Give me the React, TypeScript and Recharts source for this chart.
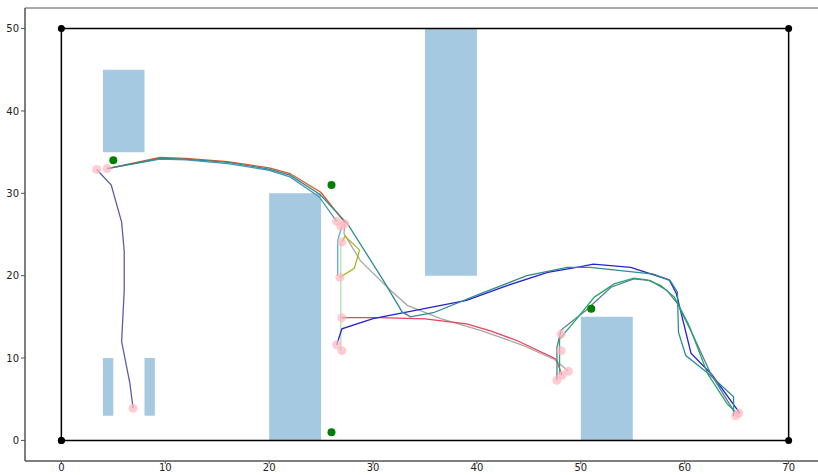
import {
  ComposedChart, Line, Scatter, XAxis, YAxis, ReferenceArea,
} from 'recharts';

type P = { x: number; y: number };
const pts = (a: number[][]): P[] => a.map(([x, y]) => ({ x, y }));

const xTicks = [0, 10, 20, 30, 40, 50, 60, 70];
const yTicks = [0, 10, 20, 30, 40, 50];

// obstacles: [x1, x2, y1, y2]
const obstacles = [
  [4, 8, 35, 45],
  [4, 5, 3, 10],
  [8, 9, 3, 10],
  [20, 25, 0, 30],
  [35, 40, 20, 50],
  [50, 55, 0, 15],
];

const boundary = pts([[0, 0], [70, 0], [70, 50], [0, 50], [0, 0]]);

const goals = pts([[5, 34], [26, 31], [26, 1], [51, 16]]);

const endpoints = pts([
  [6.9, 3.9], [3.4, 32.9], [4.4, 33.0], [26.5, 26.6], [27.3, 26.3], [26.9, 26.0],
  [27.0, 24.1], [26.8, 19.8], [27.0, 14.9], [26.5, 11.6], [27.0, 10.9],
  [48.1, 12.9], [48.1, 10.9], [47.7, 7.3], [48.2, 7.9], [48.8, 8.4],
  [64.9, 3.0], [65.2, 3.3],
]);

const slatePath = pts([
  [6.9, 3.9], [6.6, 6.9], [5.8, 12], [6.05, 18.2], [6.05, 23], [5.8, 26.5],
  [4.8, 31], [3.4, 32.9],
]);
const orangePath = pts([
  [4.4, 33.0], [9.5, 34.35], [12, 34.25], [16, 33.85], [20, 33.1], [22, 32.4],
  [25, 30.1], [27.3, 26.4],
]);
const steelPath = pts([
  [4.4, 33.0], [9.5, 34.15], [12, 34.05], [16, 33.6], [20, 32.8], [22, 32.0],
  [24.8, 29.6], [26.5, 26.6],
]);
const tealPath = pts([
  [4.4, 33.0], [9.5, 34.25], [12, 34.15], [16, 33.75], [20, 32.95], [22, 32.2],
  [24.9, 29.85], [27.6, 26.2], [31, 19.4], [32.8, 15.6], [33.6, 15.0], [35.8, 15.5],
  [40.3, 17.8], [44.8, 20], [48.7, 21], [50.9, 21.0], [57, 20.2], [58.6, 19.4],
  [59.3, 18], [59.4, 13.1], [60.1, 10.3], [62.3, 8.1], [64.7, 5.3], [64.7, 3.0],
]);
const grayPath = pts([
  [27.3, 26.3], [27.2, 25.1], [28.8, 21.8], [31.7, 18.2], [33.3, 16.4], [36.5, 14.8],
  [40.5, 13.3], [44.5, 11.5], [47.5, 9.8], [48.8, 8.4],
]);
const limePath = pts([
  [27.0, 24.1], [27.3, 24.8], [28.7, 23.1], [28.2, 20.9], [26.8, 19.8],
]);
const skyPath = pts([[27.0, 26.0], [26.6, 24.3], [26.6, 20.0]]);
const mintPath = pts([[26.9, 24.1], [26.9, 10.9]]);
const bluePath = pts([
  [26.5, 11.6], [27.0, 13.55], [30, 14.8], [35.8, 16.2], [39, 17], [42.9, 18.8],
  [46.8, 20.4], [50, 21.1], [51.2, 21.4], [54.8, 21.0], [58.5, 19.5], [59.2, 17.8],
  [60.6, 10.6], [62.6, 8.0], [65.3, 3.3],
]);
const redPath = pts([
  [27.0, 14.9], [30.7, 14.9], [35, 14.75], [39, 14.15], [41.3, 13.3], [43.9, 12.1],
  [47.6, 9.9], [48.2, 7.9],
]);
const greenPath = pts([
  [47.95, 8.0], [47.95, 12.3], [49.5, 14.6], [51.3, 17.4], [53.2, 19.0], [55.1, 19.7],
  [56.4, 19.5], [57.7, 18.8], [59, 17.4], [60.4, 14.0], [62.2, 8.1], [64.1, 4.4],
  [65.1, 3.2],
]);
const slateGrayPath = pts([
  [47.7, 7.3], [47.7, 11.3], [48.1, 13.4], [50.5, 15.8], [52.9, 18.6], [55.1, 19.6],
  [56.7, 19.4], [58.3, 18.2], [59.3, 16.6], [60.6, 13.3], [62.5, 8.1], [64.7, 3.6],
  [64.7, 3.0],
]);

const paths: { data: P[]; color: string }[] = [
  { data: slatePath, color: '#5c5ca8' },
  { data: grayPath, color: '#a8a8a8' },
  { data: mintPath, color: '#b2dfb2' },
  { data: skyPath, color: '#5aaad8' },
  { data: limePath, color: '#a8b820' },
  { data: redPath, color: '#e8445c' },
  { data: bluePath, color: '#2a20d0' },
  { data: steelPath, color: '#4a96b8' },
  { data: orangePath, color: '#e0561e' },
  { data: tealPath, color: '#2e8c90' },
  { data: slateGrayPath, color: '#60789a' },
  { data: greenPath, color: '#22aa66' },
];

const tickStyle = { fontSize: 10, fill: '#222', fontFamily: 'DejaVu Sans' };

export default function App() {
  return (
    <div style={{ position: 'absolute', left: 0, top: 0, width: 818, height: 475, overflow: 'hidden', background: '#fff' }}>
      <ComposedChart width={825} height={475} margin={{ top: 8, right: 0, bottom: 0, left: 0 }}>
        <XAxis
          type="number" dataKey="x" domain={[-3.5, 73.5]} ticks={xTicks} allowDataOverflow
          height={14} tick={tickStyle} tickSize={3} tickMargin={0} stroke="#555"
        />
        <YAxis
          type="number" dataKey="y" domain={[-2.5, 52.5]} ticks={yTicks} allowDataOverflow
          width={25} tick={tickStyle} tickSize={4} tickMargin={2} stroke="#555"
        />
        <ReferenceArea x1={-3.5} x2={73.5} y1={-2.5} y2={52.5} fill="none" stroke="#555" strokeWidth={1} />
        {obstacles.map(([x1, x2, y1, y2], i) => (
          <ReferenceArea key={i} x1={x1} x2={x2} y1={y1} y2={y2} fill="#a5c9e1" fillOpacity={1} stroke="none" />
        ))}
        <Line
          data={boundary} dataKey="y" stroke="#000" strokeWidth={1.5} isAnimationActive={false}
          dot={{ r: 3.5, fill: '#000', stroke: 'none' }} activeDot={false}
        />
        <Line
          data={endpoints} dataKey="y" stroke="none" isAnimationActive={false} activeDot={false}
          dot={(p: any) => <circle key={p.index} cx={p.cx} cy={p.cy} r={4.5} fill="#ffb6c1" fillOpacity={0.7} />}
        />
        {paths.map((s, i) => (
          <Line
            key={i} data={s.data} dataKey="y" type="linear" stroke={s.color} strokeWidth={1.3}
            dot={false} activeDot={false} isAnimationActive={false}
          />
        ))}
        <Scatter
          data={goals} dataKey="y" isAnimationActive={false}
          shape={(p: any) => <circle cx={p.cx} cy={p.cy} r={4} fill="#008000" />}
        />
      </ComposedChart>
    </div>
  );
}
